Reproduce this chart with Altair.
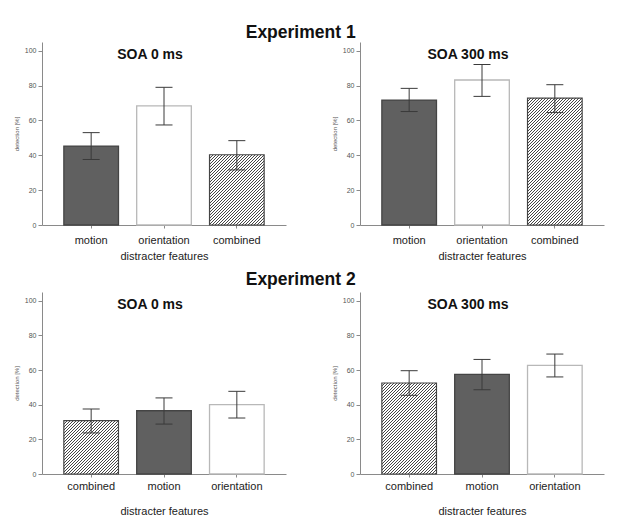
import altair as alt
import pandas as pd

# ---------------- data ----------------
exp1_features = ["motion", "orientation", "combined"]
exp1_soa0_mean = [45.3, 68.4, 40.3]
exp1_soa0_lo = [37.6, 57.4, 31.6]
exp1_soa0_hi = [53.0, 79.0, 48.4]
exp1_soa300_mean = [71.7, 83.2, 72.8]
exp1_soa300_lo = [65.1, 73.8, 64.5]
exp1_soa300_hi = [78.4, 92.1, 80.5]

exp2_features = ["combined", "motion", "orientation"]
exp2_soa0_mean = [30.8, 36.5, 40.0]
exp2_soa0_lo = [23.7, 28.8, 32.3]
exp2_soa0_hi = [37.5, 43.9, 47.7]
exp2_soa300_mean = [52.5, 57.5, 62.7]
exp2_soa300_lo = [45.4, 48.6, 56.0]
exp2_soa300_hi = [59.6, 66.1, 69.2]

y_ticks = [0, 20, 40, 60, 80, 100]

# ---------------- style ----------------
FONT = "Liberation Sans, Arial, Helvetica, sans-serif"
W = 244
YMAX = 105
PAD_IN, PAD_OUT = 0.25, 0.3
DARK = "#606060"
LINE = "#3a3a3a"
AXIS = "#8a8a8a"


def hatch_gradient(value, height):
    step = W / (3 - PAD_IN + 2 * PAD_OUT)
    w = step * (1 - PAD_IN)
    h = value / YMAX * height
    period = 3.0
    n = int((w + h) / period) + 1
    L = n * period
    k = L / (w * w + h * h)
    stops = []
    for i in range(n):
        a = i / n
        b = (i + 0.34) / n
        stops += [
            {"offset": a, "color": "#ffffff"},
            {"offset": a, "color": "#454545"},
            {"offset": b, "color": "#454545"},
            {"offset": b, "color": "#ffffff"},
        ]
    stops.append({"offset": 1, "color": "#ffffff"})
    return alt.Gradient(gradient="linear", x1=0, y1=0, x2=k * w, y2=k * h, stops=stops)


def panel(features, mean, lo, hi, title, height, label_pad, xtitle_pad):
    df = pd.DataFrame({"feature": features, "mean": mean, "lo": lo, "hi": hi})
    x = alt.X(
        "feature:N",
        sort=features,
        scale=alt.Scale(paddingInner=PAD_IN, paddingOuter=PAD_OUT),
        axis=alt.Axis(
            title="distracter features",
            labelAngle=0,
            labelFontSize=11,
            labelColor="#222",
            labelPadding=label_pad,
            tickSize=3,
            tickColor=AXIS,
            domainColor=AXIS,
            titleFontSize=11,
            titleFontWeight="normal",
            titleColor="#222",
            titlePadding=xtitle_pad,
        ),
    )
    yaxis = alt.Axis(
        title="detection [%]",
        values=y_ticks,
        grid=False,
        labelOverlap=False,
        labelFontSize=7,
        labelColor="#555",
        labelPadding=2,
        tickSize=4,
        tickColor=AXIS,
        domainColor=AXIS,
        titleFontSize=6,
        titleFontWeight="normal",
        titleColor="#555",
        titlePadding=5,
    )
    yscale = alt.Scale(domain=[0, YMAX], nice=False)
    y = alt.Y("mean:Q", scale=yscale, axis=yaxis)
    base = alt.Chart(df)
    solid = base.transform_filter(alt.datum.feature != "combined").mark_bar(strokeWidth=1.3).encode(
        x=x,
        y=y,
        fill=alt.Fill(
            "feature:N",
            scale=alt.Scale(domain=["motion", "orientation"], range=[DARK, "#ffffff"]),
            legend=None,
        ),
        stroke=alt.Stroke(
            "feature:N",
            scale=alt.Scale(domain=["motion", "orientation"], range=["#444444", "#b8b8b8"]),
            legend=None,
        ),
    )
    comb_val = mean[features.index("combined")]
    hatched = base.transform_filter(alt.datum.feature == "combined").mark_bar(
        fill=hatch_gradient(comb_val, height), stroke="#444444", strokeWidth=1.2
    ).encode(x=x, y=y)
    err = base.mark_rule(color=LINE, strokeWidth=1).encode(
        x=x, y=alt.Y("lo:Q", scale=yscale, axis=yaxis), y2="hi:Q"
    )
    cap_lo = base.mark_tick(color=LINE, size=17, thickness=1, opacity=1).encode(
        x=x, y=alt.Y("lo:Q", scale=yscale, axis=yaxis)
    )
    cap_hi = base.mark_tick(color=LINE, size=17, thickness=1, opacity=1).encode(
        x=x, y=alt.Y("hi:Q", scale=yscale, axis=yaxis)
    )
    return alt.layer(solid, hatched, err, cap_lo, cap_hi).properties(
        width=W,
        height=height,
        title=alt.TitleParams(
            text=title, fontSize=14, fontWeight="bold", color="#111",
            anchor="middle", offset=-20, dx=-14,
        ),
    )


row1 = alt.hconcat(
    panel(exp1_features, exp1_soa0_mean, exp1_soa0_lo, exp1_soa0_hi, "SOA 0 ms", 183, 6, 5),
    panel(exp1_features, exp1_soa300_mean, exp1_soa300_lo, exp1_soa300_hi, "SOA 300 ms", 183, 6, 5),
    spacing=45,
).properties(
    title=alt.TitleParams(text="Experiment 1", fontSize=17.5, fontWeight="bold", color="#111",
                          anchor="middle", offset=1, dx=-8)
)
row2 = alt.hconcat(
    panel(exp2_features, exp2_soa0_mean, exp2_soa0_lo, exp2_soa0_hi, "SOA 0 ms", 182, 3.5, 14),
    panel(exp2_features, exp2_soa300_mean, exp2_soa300_lo, exp2_soa300_hi, "SOA 300 ms", 182, 3.5, 14),
    spacing=45,
).properties(
    title=alt.TitleParams(text="Experiment 2", fontSize=17.5, fontWeight="bold", color="#111",
                          anchor="middle", offset=4, dx=-8)
)

chart = (
    alt.vconcat(row1, row2, spacing=9)
    .properties(padding={"top": 15, "left": 5, "right": 5, "bottom": 5})
    .configure(font=FONT)
    .configure_axis(labelOverlap=False)
    .configure_view(stroke=None)
)

chart.save("out.html", embed_options={"renderer": "svg", "actions": False})
